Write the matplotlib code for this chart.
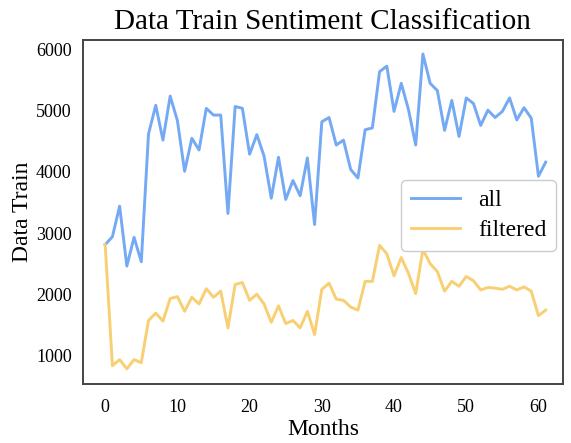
import numpy as np
import matplotlib
matplotlib.use('Agg')
import matplotlib.pyplot as plt

# values
months = np.arange(62)
all_train = [2810, 2940, 3440, 2460, 2930, 2530, 4620, 5090, 4520, 5240,
             4840, 4010, 4550, 4360, 5040, 4930, 4930, 3320, 5070, 5040,
             4290, 4610, 4260, 3570, 4240, 3550, 3860, 3610, 4230, 3140,
             4820, 4890, 4440, 4520, 4040, 3900, 4690, 4720, 5640, 5730,
             4990, 5450, 5020, 4440, 5930, 5450, 5330, 4680, 5170, 4580,
             5210, 5120, 4760, 5010, 4890, 4990, 5210, 4850, 5050, 4880,
             3930, 4160]
filtered_train = [2810, 830, 930, 780, 930, 880, 1570, 1690, 1560, 1930,
                  1960, 1720, 1950, 1840, 2090, 1950, 2050, 1450, 2160, 2190,
                  1900, 2000, 1840, 1540, 1810, 1520, 1570, 1450, 1720, 1340,
                  2080, 2180, 1920, 1900, 1790, 1740, 2210, 2210, 2800, 2660,
                  2300, 2600, 2340, 2010, 2730, 2500, 2370, 2050, 2210, 2130,
                  2290, 2220, 2070, 2110, 2100, 2080, 2130, 2070, 2120, 2050,
                  1650, 1740]

plt.rcParams['font.family'] = ['Liberation Serif', 'DejaVu Serif']

fig = plt.figure(figsize=(5.71, 4.43), dpi=100)
ax = fig.add_axes([0.145, 0.133, 0.841, 0.777])

ax.plot(months, all_train, color='#74a9f4', linewidth=2.1, label='all')
ax.plot(months, filtered_train, color='#f8cf72', linewidth=2.1, label='filtered')

ax.set_title('Data Train Sentiment Classification', fontsize=21, pad=8)
ax.set_xlabel('Months', fontsize=17, labelpad=2)
ax.set_ylabel('Data Train', fontsize=17, labelpad=2)
ax.set_xticks([0, 10, 20, 30, 40, 50, 60])
ax.set_yticks([1000, 2000, 3000, 4000, 5000, 6000])
ax.set_xlim(-3.1, 63.4)
ax.set_ylim(530, 6160)
ax.tick_params(length=0, labelsize=13, pad=8)
ax.tick_params(axis='x', pad=11)
for s in ax.spines.values():
    s.set_color('#444444')
    s.set_linewidth(1.4)

ax.legend(loc='center right', bbox_to_anchor=(0.995, 0.49), fontsize=17,
          handlelength=2.1, framealpha=1, edgecolor='#cccccc',
          borderpad=0.4, labelspacing=0.35, handletextpad=0.75,
          borderaxespad=0.2)

fig.savefig('out.png', dpi=100)
